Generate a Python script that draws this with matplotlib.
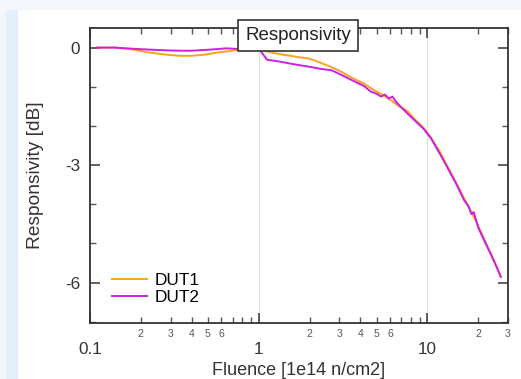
import matplotlib
matplotlib.use("Agg")
import matplotlib.pyplot as plt
from matplotlib.patches import Rectangle
from matplotlib.ticker import FixedLocator, FixedFormatter, MultipleLocator

plt.rcParams["font.family"] = ["Liberation Sans", "DejaVu Sans"]

# fluence [1e14 n/cm2] and responsivity [dB]
dut1_x = [0.11, 0.14, 0.18, 0.22, 0.28, 0.34, 0.40, 0.48, 0.56, 0.64, 0.72, 0.80, 0.90, 1.00,
          1.06, 1.12, 1.3, 1.5, 1.75, 2.0, 2.3, 2.7, 3.1, 3.6, 4.2, 4.8, 5.4, 6.1, 6.8,
          7.6, 8.5, 9.5, 10.5, 11.8, 13.2, 14.8, 16.5, 18.2, 20.0, 22.0, 24.0, 26.0, 27.2]
dut1_y = [0.0, 0.0, -0.05, -0.12, -0.18, -0.21, -0.21, -0.18, -0.13, -0.1, -0.07, -0.05, -0.03, 0.0,
          -0.05, -0.1, -0.16, -0.2, -0.25, -0.28, -0.38, -0.5, -0.62, -0.78, -0.92, -1.08, -1.2, -1.35, -1.5,
          -1.62, -1.85, -2.05, -2.3, -2.65, -3.05, -3.45, -3.85, -4.2, -4.55, -4.95, -5.3, -5.65, -5.85]

dut2_x = [0.11, 0.14, 0.18, 0.22, 0.28, 0.34, 0.40, 0.48, 0.56, 0.64, 0.72, 0.80, 0.90, 1.00,
          1.04, 1.08, 1.12, 1.3, 1.5, 1.75, 2.0, 2.3, 2.7, 3.1, 3.6, 4.2, 4.6, 5.0, 5.3, 5.6,
          5.9, 6.2, 6.5, 6.9, 7.6, 8.5, 9.5, 10.5, 11.8, 13.2, 14.8, 16.5, 17.5, 18.2, 18.8,
          20.0, 22.0, 24.0, 26.0, 27.2]
dut2_y = [0.0, 0.0, -0.03, -0.05, -0.07, -0.08, -0.08, -0.06, -0.04, -0.02, -0.03, -0.05, -0.02, 0.0,
          -0.12, -0.22, -0.31, -0.35, -0.4, -0.45, -0.49, -0.54, -0.58, -0.7, -0.84, -0.98, -1.12, -1.18, -1.25, -1.2,
          -1.3, -1.25, -1.38, -1.5, -1.68, -1.88, -2.08, -2.32, -2.7, -3.08, -3.48, -3.9, -4.05, -4.25, -4.2,
          -4.6, -4.98, -5.32, -5.65, -5.85]

major_ticks = [0.1, 1, 10]
major_labels = ["0.1", "1", "10"]
minor_ticks = [0.2, 0.3, 0.4, 0.5, 0.6, 2, 3, 4, 5, 6, 20, 30]
minor_labels = ["2", "3", "4", "5", "6", "2", "3", "4", "5", "6", "2", "3"]

fig = plt.figure(figsize=(5.21, 3.79), dpi=100, facecolor="#f3f7fc")
fig.patches.append(Rectangle((18 / 521, 0), 1, 1 - 10 / 379, transform=fig.transFigure,
                             facecolor="white", edgecolor="none", zorder=-2))
fig.patches.append(Rectangle((6 / 521, 0), 12 / 521, 1 - 10 / 379, transform=fig.transFigure,
                             facecolor="#e3f0fb", edgecolor="none", zorder=-2))

ax = fig.add_axes([90 / 521, 1 - 323 / 379, 418 / 521, 295 / 379])
ax.plot(dut1_x, dut1_y, color="#ffa020", lw=1.4, label="DUT1")
ax.plot(dut2_x, dut2_y, color="#cc20e0", lw=1.4, label="DUT2")

ax.set_xscale("log")
ax.set_xlim(0.1, 30)
ax.set_ylim(-7.03, 0.5)

ax.xaxis.set_major_locator(FixedLocator(major_ticks))
ax.xaxis.set_major_formatter(FixedFormatter(major_labels))
ax.xaxis.set_minor_locator(FixedLocator(minor_ticks + [0.7, 0.8, 0.9, 7, 8, 9]))
ax.xaxis.set_minor_formatter(FixedFormatter(minor_labels + ["", "", "", "", "", ""]))
ax.yaxis.set_major_locator(FixedLocator([-6, -3, 0]))
ax.yaxis.set_major_formatter(FixedFormatter(["-6", "-3", "0"]))
ax.yaxis.set_minor_locator(MultipleLocator(1))

ax.tick_params(which="major", direction="in", length=7, width=1.1, top=True, right=True,
               labelsize=12.3, colors="#333333", pad=14)
ax.tick_params(axis="y", which="major", pad=7)
ax.tick_params(which="minor", direction="in", length=4, width=1.0, top=True, right=True,
               labelsize=7.5, colors="#555555", pad=4)
ax.tick_params(axis="y", which="minor", labelleft=False)
for s in ax.spines.values():
    s.set_color("#333333")
    s.set_linewidth(1.3)

ax.grid(True, which="major", axis="x", color="#dddddd", lw=0.8)

ax.set_xlabel("Fluence [1e14 n/cm2]", fontsize=13, color="#333333", labelpad=3)
ax.set_ylabel("Responsivity [dB]", fontsize=13.8, color="#333333", labelpad=15)

ax.text(0.498, 0.975, "Responsivity", transform=ax.transAxes, ha="center", va="center",
        fontsize=13.5, color="#222222",
        bbox=dict(boxstyle="square,pad=0.38", facecolor="white", edgecolor="#333333", lw=1.2))

ax.legend(loc="lower left", bbox_to_anchor=(0.053, 0.062), frameon=False, fontsize=12.4,
          handlelength=2.0, labelspacing=0.1, borderaxespad=0, borderpad=0, handletextpad=0.45)

fig.savefig("out.png", dpi=100, facecolor=fig.get_facecolor())
